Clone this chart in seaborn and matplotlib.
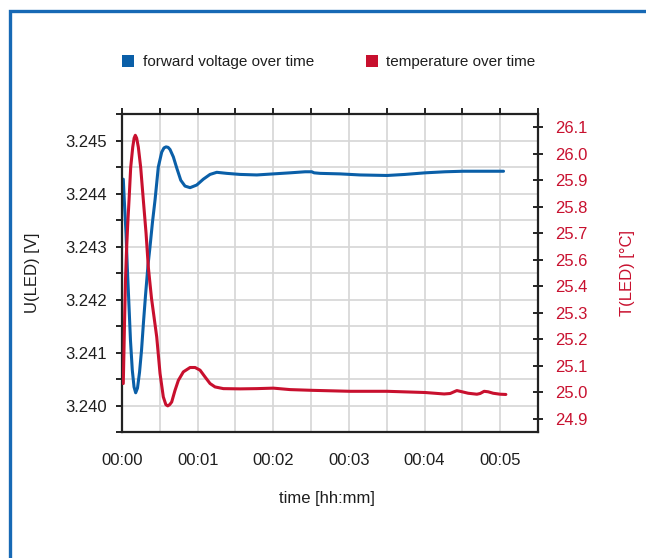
import numpy as np
import pandas as pd
import matplotlib
matplotlib.use("Agg")
import matplotlib.pyplot as plt
from matplotlib.patches import Patch, Rectangle
import seaborn as sns

# Forward voltage of the LED, time in minutes since start
volt_time = [0.017, 0.030, 0.053, 0.070, 0.089, 0.112, 0.136, 0.159, 0.181, 0.205,
             0.232, 0.258, 0.284, 0.311, 0.344, 0.370, 0.403, 0.437, 0.480, 0.525,
             0.555, 0.582, 0.610, 0.635, 0.679, 0.724, 0.777, 0.833, 0.900, 0.988,
             1.075, 1.164, 1.253, 1.385, 1.561, 1.782, 2.001, 2.222, 2.421, 2.509,
             2.540, 2.619, 2.884, 3.148, 3.505, 3.743, 4.008, 4.273, 4.511, 4.735,
             5.044]
volt_values = [3.24427, 3.24388, 3.24325, 3.24261, 3.24199, 3.24123, 3.24067, 3.24035,
               3.24024, 3.24033, 3.24063, 3.24104, 3.24157, 3.24208, 3.24265, 3.24299,
               3.24346, 3.24388, 3.24450, 3.24478, 3.24486, 3.24488, 3.24487, 3.24483,
               3.24469, 3.24448, 3.24425, 3.24414, 3.24411, 3.24416, 3.24427, 3.24436,
               3.24440, 3.24438, 3.24436, 3.24435, 3.24437, 3.24439, 3.24441, 3.24441,
               3.24439, 3.24438, 3.24437, 3.24435, 3.24434, 3.24436, 3.24439, 3.24441,
               3.24442, 3.24442, 3.24442]

# LED temperature, time in minutes since start
temp_time = [0.017, 0.027, 0.036, 0.046, 0.060, 0.075, 0.093, 0.115, 0.142, 0.160,
             0.176, 0.194, 0.216, 0.247, 0.282, 0.318, 0.348, 0.390, 0.459, 0.503,
             0.546, 0.580, 0.605, 0.630, 0.657, 0.701, 0.745, 0.811, 0.900, 0.966,
             1.032, 1.098, 1.164, 1.230, 1.340, 1.561, 1.782, 2.001, 2.222, 2.513,
             3.016, 3.505, 4.008, 4.259, 4.339, 4.427, 4.497, 4.577, 4.692, 4.735,
             4.788, 4.841, 4.907, 5.000, 5.075]
temp_values = [25.045, 25.196, 25.333, 25.470, 25.594, 25.697, 25.800, 25.935, 26.018,
               26.055, 26.067, 26.055, 26.018, 25.935, 25.800, 25.664, 25.524, 25.396,
               25.237, 25.086, 24.990, 24.958, 24.953, 24.958, 24.969, 25.017, 25.058,
               25.093, 25.111, 25.111, 25.100, 25.072, 25.045, 25.031, 25.024, 25.023,
               25.024, 25.026, 25.020, 25.017, 25.013, 25.013, 25.008, 25.002, 25.004,
               25.016, 25.011, 25.005, 25.001, 25.004, 25.013, 25.011, 25.005, 25.001,
               25.000]

x_tick_minutes = [0, 1, 2, 3, 4, 5]
x_tick_labels = ["00:00", "00:01", "00:02", "00:03", "00:04", "00:05"]
volt_ticks = [3.240, 3.241, 3.242, 3.243, 3.244, 3.245]
volt_tick_labels = ["3.240", "3.241", "3.242", "3.243", "3.244", "3.245"]
temp_tick_labels = ["24.9", "25.0", "25.1", "25.2", "25.3", "25.4",
                    "25.6", "25.7", "25.8", "25.9", "26.0", "26.1"]

BLUE = "#0a5fa8"
RED = "#c8102e"
GRID = "#d6d6d6"
TEXT = "#1e1e1e"
FRAME = "#1769b5"
FS = 12
FS_LEGEND = 11

sns.set_theme(style="white")
plt.rcParams["font.family"] = ["Liberation Sans", "DejaVu Sans"]

W, H = 646, 558
fig = plt.figure(figsize=(W / 100, H / 100), dpi=100)
fig.patch.set_facecolor("white")

# outer blue frame
fig.patches.append(Rectangle((9.5 / W, -0.2), 1.2, 1.2 - 11 / H,
                             transform=fig.transFigure, fill=False,
                             edgecolor=FRAME, lw=2.4, clip_on=False))

ax = fig.add_axes([122 / W, 1 - 432 / H, 416 / W, 318 / H])

volt_df = pd.DataFrame({"time": volt_time, "voltage": volt_values})
temp_df = pd.DataFrame({"time": temp_time, "temperature": temp_values})

sns.lineplot(data=volt_df, x="time", y="voltage", ax=ax, color=BLUE,
             lw=2.2, sort=False, estimator=None)

ax.set_xlim(0, 5.5)
ax.set_ylim(3.2395, 3.2455)
ax.set_xticks(x_tick_minutes)
ax.set_xticklabels(x_tick_labels)
ax.set_xticks(np.arange(0, 5.51, 0.5), minor=True)
ax.set_yticks(volt_ticks)
ax.set_yticklabels(volt_tick_labels)
ax.set_yticks(np.arange(3.2395, 3.24551, 0.0005), minor=True)
ax.grid(which="both", color=GRID, lw=1.2)
ax.set_axisbelow(True)

ax.tick_params(axis="x", which="both", bottom=False, top=True, labelbottom=True,
               labeltop=False, direction="out", length=4, width=1.2, color="black",
               labelsize=FS, labelcolor=TEXT, pad=11)
ax.tick_params(axis="y", which="both", left=True, direction="out", length=4,
               width=1.2, color="black", labelsize=FS, labelcolor=TEXT, pad=7)

for side in ["left", "top", "bottom"]:
    ax.spines[side].set_visible(True)
    ax.spines[side].set_color("#222222")
    ax.spines[side].set_linewidth(1.6)
ax.spines["right"].set_visible(False)

ax.set_xlabel("time [hh:mm]", fontsize=FS, color=TEXT)
ax.xaxis.label.set_va("center")
ax.xaxis.set_label_coords((327 - 122) / 416, -(499 - 432) / 318)
ax.set_ylabel("U(LED) [V]", fontsize=FS, color=TEXT)
ax.yaxis.label.set_va("center")
ax.yaxis.set_label_coords((33 - 122) / 416, 0.5)

# temperature on the secondary axis
ax2 = ax.twinx()
sns.lineplot(data=temp_df, x="time", y="temperature", ax=ax2, color=RED,
             lw=2.2, sort=False, estimator=None)
temp_ticks = np.linspace(24.9, 26.1, len(temp_tick_labels))
step = temp_ticks[1] - temp_ticks[0]
ax2.set_ylim(24.9 - step / 2, 26.1 + step / 2)
ax2.set_yticks(temp_ticks)
ax2.set_yticklabels(temp_tick_labels)
ax2.grid(False)
ax2.tick_params(axis="y", which="both", right=True, direction="inout", length=7,
                width=1.2, color="black", labelsize=FS, labelcolor=RED, pad=9)
for side in ["left", "top", "bottom"]:
    ax2.spines[side].set_visible(False)
ax2.spines["right"].set_visible(True)
ax2.spines["right"].set_color("#222222")
ax2.spines["right"].set_linewidth(1.6)
ax2.set_ylabel("T(LED) [°C]", fontsize=FS, color=RED, rotation=90)
ax2.yaxis.label.set_va("center")
ax2.yaxis.set_label_coords((628 - 122) / 416, 0.5)

handles = [Patch(facecolor=BLUE, edgecolor="none", label="forward voltage over time"),
           Patch(facecolor=RED, edgecolor="none", label="temperature over time")]
fig.legend(handles=handles, loc="center left", bbox_to_anchor=(122 / W, 1 - 62 / H),
           ncol=2, frameon=False, fontsize=FS_LEGEND, labelcolor=TEXT,
           handlelength=0.8, handleheight=0.8, handletextpad=0.55,
           columnspacing=3.4, borderpad=0, borderaxespad=0)

fig.savefig("out.png", dpi=100, facecolor="white")
